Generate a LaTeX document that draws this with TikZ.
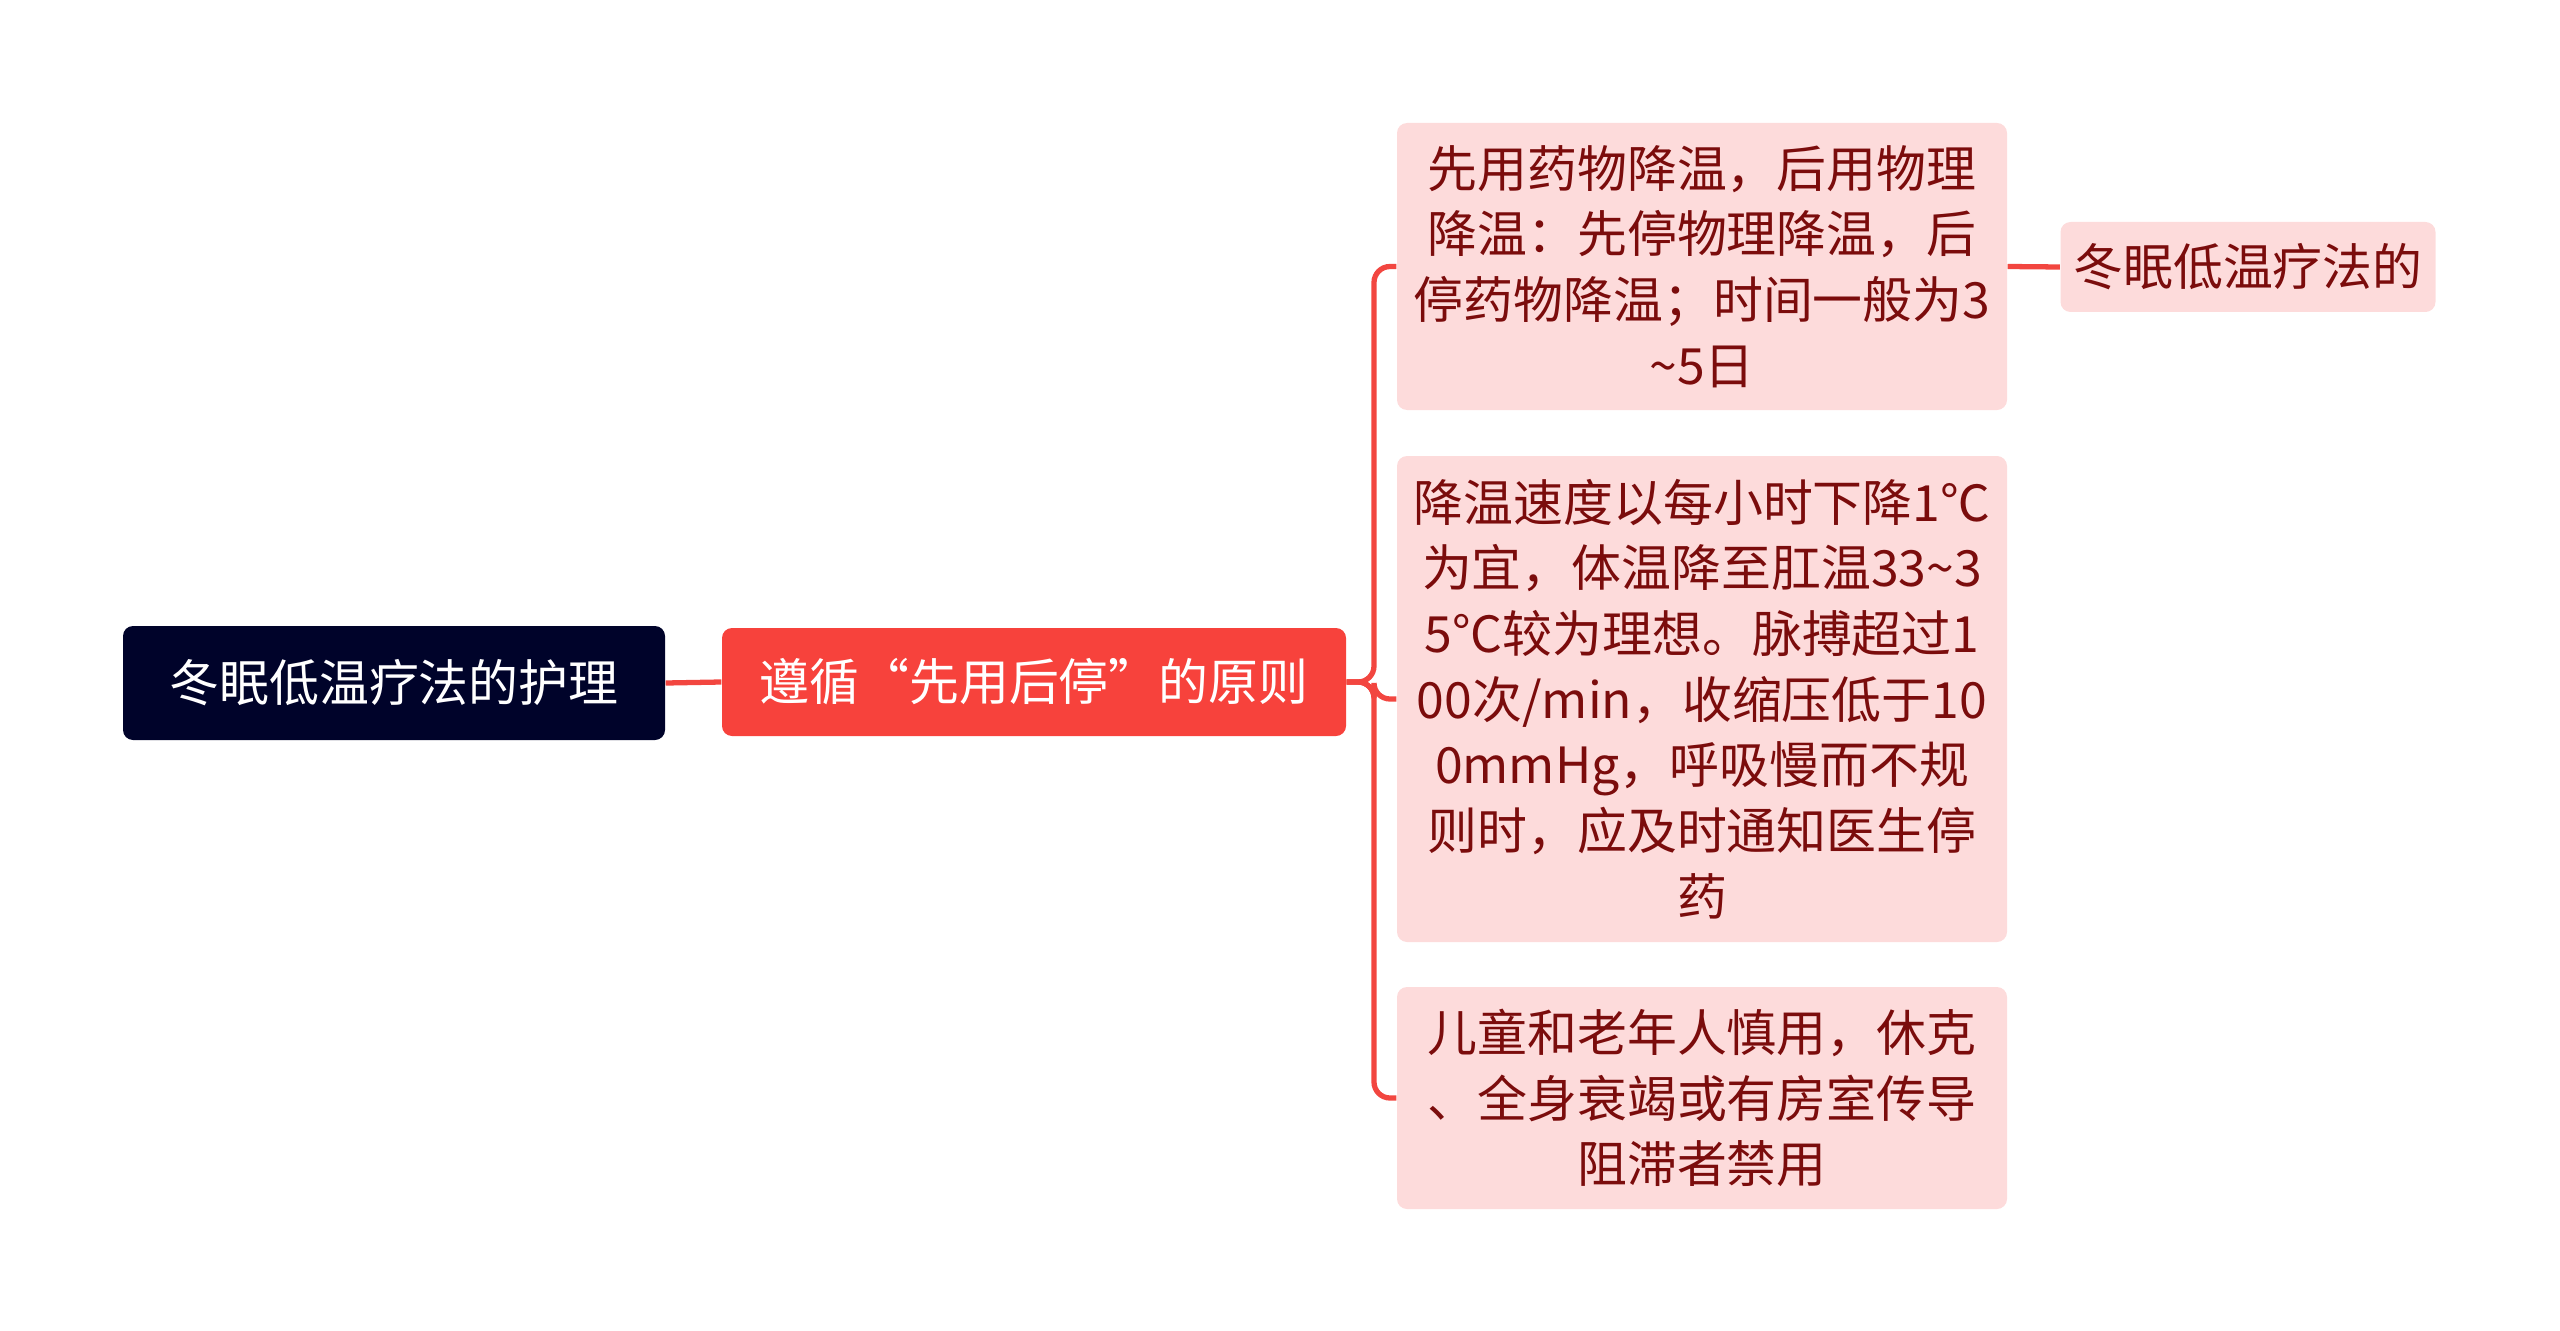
\documentclass[tikz,border=0pt]{standalone}
\usepackage{fontspec}
\setmainfont{Noto Sans CJK SC}
\usepackage{xcolor}
\usepackage{tikz}
\usetikzlibrary{positioning,calc}

\definecolor{rootblue}{RGB}{0,3,42}
\definecolor{mainred}{RGB}{247,66,60}
\definecolor{leafpink}{RGB}{253,219,219}
\definecolor{leaftext}{RGB}{123,12,12}
\definecolor{linkred}{RGB}{242,70,64}

\tikzset{
    box/.style={rounded corners=0.1cm, inner sep=0pt, align=center,
        font=\fontsize{14.2pt}{18.7pt}\selectfont},
    rootbox/.style={box, fill=rootblue, text=white},
    mainbox/.style={box, fill=mainred, text=white},
    leafbox/.style={box, fill=leafpink, text=leaftext},
    link/.style={draw=linkred, line width=1.5pt, rounded corners=0.16cm}
}

\begin{document}
\begin{tikzpicture}
    \useasboundingbox (0,0) rectangle (25.6,-13.31);

    \node[rootbox, minimum width=5.42cm, minimum height=1.14cm] (root) at (3.94,-6.83) {冬眠低温疗法的护理};
    \node[mainbox, minimum width=6.24cm, minimum height=1.08cm] (rule) at (10.34,-6.82) {遵循“先用后停”的原则};

    \node[leafbox, minimum width=6.1cm, minimum height=2.87cm] (order) at (17.02,-2.665) {先用药物降温，后用物理\\
        降温：先停物理降温，后\\
        停药物降温；时间一般为3\\
        \textasciitilde5日};
    \node[leafbox, minimum width=6.1cm, minimum height=4.86cm] (speed) at (17.02,-6.99) {降温速度以每小时下降1℃\\
        为宜，体温降至肛温33\textasciitilde3\\
        5°C较为理想。脉搏超过1\\
        00次/min，收缩压低于10\\
        0mmHg，呼吸慢而不规\\
        则时，应及时通知医生停\\
        药};
    \node[leafbox, minimum width=6.1cm, minimum height=2.22cm] (caution) at (17.02,-10.98) {儿童和老年人慎用，休克\\
        、全身衰竭或有房室传导\\
        阻滞者禁用};
    \node[leafbox, minimum width=3.75cm, minimum height=0.9cm] (tail) at (22.48,-2.67) {冬眠低温疗法的};

    \coordinate (fork) at (13.74,-6.82);

    \draw[link] (root.east) -- (rule.west);
    \draw[link] (rule.east) -- (fork) |- (order.west);
    \draw[link] (rule.east) -- (fork) |- (speed.west);
    \draw[link] (rule.east) -- (fork) |- (caution.west);
    \draw[link] (order.east) -- (tail.west);
\end{tikzpicture}
\end{document}
